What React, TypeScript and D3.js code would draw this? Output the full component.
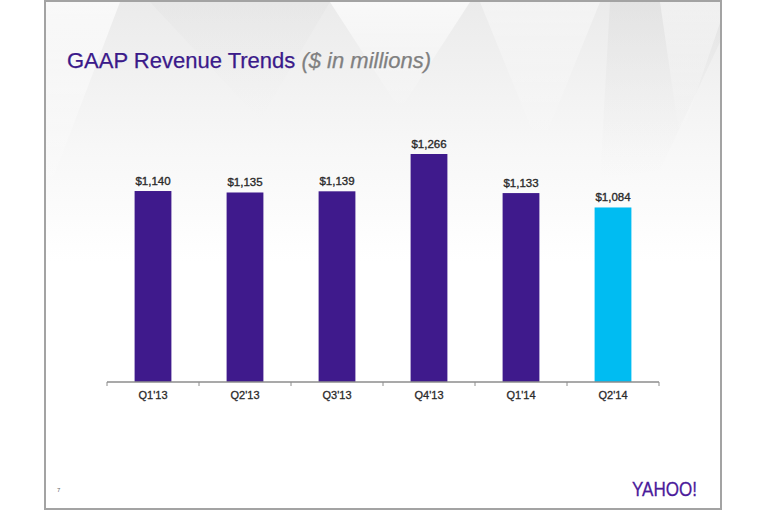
import * as d3 from "d3";

const quarters = ["Q1'13", "Q2'13", "Q3'13", "Q4'13", "Q1'14", "Q2'14"];
const revenue = [1140, 1135, 1139, 1266, 1133, 1084];
const currentQuarter = "Q2'14";

const W = 767;
const H = 511;
const PURPLE = "#3f1a8c";
const CYAN = "#00bcf2";
const FONT = "Arial, 'Liberation Sans', sans-serif";

export default function App() {
  const x = d3
    .scaleBand<string>()
    .domain(quarters)
    .range([107, 659])
    .paddingInner(0.6)
    .paddingOuter(0.3);

  const y = d3.scaleLinear().domain([490, 1266]).range([382, 154]);
  const base = y.range()[0];

  const step = x.step();
  const tickXs = d3.range(quarters.length + 1).map((i) => x.range()[0] + i * step);

  const fmt = (v: number) => "$" + d3.format(",")(v);

  return (
    <svg
      width={W}
      height={H}
      style={{ position: "absolute", left: 0, top: 0, background: "#fff" }}
      fontFamily={FONT}
    >
      <defs>
        <linearGradient id="bgfade" x1="0" y1="0" x2="0" y2="1">
          <stop offset="0" stopColor="#ebebeb" />
          <stop offset="0.55" stopColor="#f7f7f7" />
          <stop offset="1" stopColor="#ffffff" />
        </linearGradient>
        <linearGradient id="shard" x1="0" y1="0" x2="0" y2="1">
          <stop offset="0" stopColor="#ffffff" stopOpacity="0.7" />
          <stop offset="1" stopColor="#ffffff" stopOpacity="0" />
        </linearGradient>
        <linearGradient id="shardDark" x1="0" y1="0" x2="0" y2="1">
          <stop offset="0" stopColor="#dadada" stopOpacity="0.6" />
          <stop offset="1" stopColor="#e8e8e8" stopOpacity="0" />
        </linearGradient>
        <clipPath id="slide">
          <rect x={45} y={2} width={676} height={506} />
        </clipPath>
      </defs>

      {/* slide background with faint faceted shapes */}
      <g clipPath="url(#slide)">
        <rect x={45} y={2} width={676} height={506} fill="#fff" />
        <rect x={45} y={2} width={676} height={260} fill="url(#bgfade)" />
        <path d="M45,2 L120,2 L60,160 L45,200 Z" fill="url(#shard)" />
        <path d="M150,2 L330,2 L260,120 Z" fill="url(#shardDark)" opacity={0.4} />
        <path d="M330,2 L470,2 L400,110 Z" fill="url(#shard)" />
        <path d="M480,2 L600,2 L540,150 Z" fill="url(#shard)" opacity={0.6} />
        <path d="M610,2 L721,2 L721,40 L660,170 L600,180 Z" fill="url(#shardDark)" opacity={0.8} />
        <path d="M660,2 L721,2 L721,20 L680,140 Z" fill="url(#shard)" opacity={0.7} />
        <rect x={45} y={262} width={676} height={246} fill="#fff" />
      </g>
      <rect x={45} y={1} width={676} height={508} fill="none" stroke="#a3a3a3" strokeWidth={2} />

      {/* title */}
      <text x={67} y={68} fontSize={22} fill="#3b1a8a" stroke="#3b1a8a" strokeWidth={0.25}>
        GAAP Revenue Trends{" "}
        <tspan fill="#808080" stroke="#808080" fontStyle="italic">
          ($ in millions)
        </tspan>
      </text>

      {/* bars */}
      {quarters.map((q, i) => (
        <g key={q}>
          <rect
            x={x(q)}
            y={y(revenue[i])}
            width={x.bandwidth()}
            height={base - y(revenue[i])}
            fill={q === currentQuarter ? CYAN : PURPLE}
          />
          <text
            x={(x(q) ?? 0) + x.bandwidth() / 2}
            y={y(revenue[i]) - 6}
            textAnchor="middle"
            fontSize={11.5}
            fill="#2a2a2a"
            stroke="#2a2a2a"
            strokeWidth={0.35}
          >
            {fmt(revenue[i])}
          </text>
        </g>
      ))}

      {/* category axis */}
      <line x1={x.range()[0]} x2={x.range()[1]} y1={base} y2={base} stroke="#8c8c8c" strokeWidth={1.5} />
      {tickXs.map((tx, i) => (
        <line key={i} x1={tx} x2={tx} y1={base} y2={base + 4} stroke="#8c8c8c" strokeWidth={1} />
      ))}
      {quarters.map((q) => (
        <text
          key={q}
          x={(x(q) ?? 0) + x.bandwidth() / 2}
          y={base + 17}
          textAnchor="middle"
          fontSize={11}
          fill="#2a2a2a"
          stroke="#2a2a2a"
          strokeWidth={0.3}
        >
          {q}
        </text>
      ))}

      {/* footer */}
      <text x={57} y={492} fontSize={6} fill="#666">
        7
      </text>
      <text
        x={632}
        y={496}
        fontSize={21}
        fill="#4b1b9b"
        stroke="#4b1b9b"
        strokeWidth={0.3}
        textLength={65}
        lengthAdjust="spacingAndGlyphs"
      >
        YAHOO!
      </text>
    </svg>
  );
}
